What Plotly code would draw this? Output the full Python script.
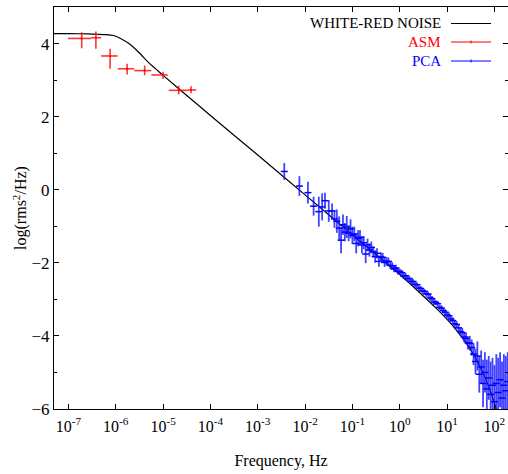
import plotly.graph_objects as go

# ---------------- data ----------------
# White-red noise model curve: log10(frequency), log10(power)
model_logf = [-7.32, -7.0, -6.6, -6.4, -6.2, -6.05, -5.9, -5.7, -5.5, -5.3, -5.15, -5.0,
              -4.5, -4.0, -3.0, -2.0, -1.0, 0.0, 0.4, 0.8, 1.0, 1.2, 1.4, 1.6, 1.8,
              1.9, 2.0, 2.1, 2.2, 2.3]
model_logp = [4.27, 4.27, 4.265, 4.255, 4.245, 4.22, 4.14, 3.98, 3.74, 3.47, 3.30, 3.13,
              2.58, 2.03, 0.95, -0.14, -1.23, -2.32, -2.79, -3.28, -3.55, -3.85, -4.19, -4.60, -5.13,
              -5.46, -5.84, -6.29, -6.83, -7.48]

# ASM: bin centre, bin edges (log10 Hz), log power, upper / lower errors
asm_logf = [-6.72, -6.42, -6.12, -5.76, -5.39, -5.00, -4.67, -4.41]
asm_logf_lo = [-7.01, -6.52, -6.31, -5.96, -5.61, -5.25, -4.88, -4.48]
asm_logf_hi = [-6.52, -6.31, -5.96, -5.61, -5.25, -4.90, -4.48, -4.30]
asm_logp = [4.14, 4.16, 3.66, 3.31, 3.26, 3.14, 2.72, 2.73]
asm_err_up = [0.17, 0.17, 0.20, 0.14, 0.14, 0.09, 0.13, 0.10]
asm_err_dn = [0.27, 0.30, 0.35, 0.16, 0.13, 0.10, 0.11, 0.09]

# PCA: log10 frequency, log power, error
pca_logf = [-2.44, -2.12, -1.94, -1.82, -1.71, -1.64, -1.58, -1.50, -1.43, -1.38, -1.33, -1.28, -1.24,
            -1.20, -1.16, -1.12, -1.08, -1.04, -1.00, -0.96, -0.92, -0.88, -0.84, -0.80, -0.76,
            -0.72, -0.68, -0.64, -0.60, -0.56, -0.52, -0.48, -0.44, -0.40, -0.36, -0.32, -0.28,
            -0.24, -0.20, -0.16, -0.12, -0.08, -0.04, 0.00, 0.04, 0.08, 0.12, 0.16, 0.20,
            0.24, 0.28, 0.32, 0.36, 0.40, 0.44, 0.48, 0.52, 0.56, 0.60, 0.64, 0.68,
            0.72, 0.76, 0.80, 0.84, 0.88, 0.92, 0.96, 1.00, 1.04, 1.08, 1.12, 1.16,
            1.20, 1.24, 1.28, 1.32, 1.36, 1.40, 1.44, 1.48,
            1.52, 1.56, 1.60, 1.64, 1.68, 1.72, 1.76, 1.80, 1.84, 1.88,
            1.92, 1.96, 2.00, 2.04, 2.08, 2.12, 2.16, 2.20, 2.24, 2.28]
pca_logp = [0.50, 0.10, -0.08, -0.45, -0.60, -0.47, -0.30, -0.58, -0.58, -0.80, -0.86, -1.05, -1.38,
            -0.96, -1.16, -1.02, -1.19, -1.07, -1.25, -1.21, -1.47, -1.33, -1.30, -1.51, -1.45,
            -1.76, -1.51, -1.65, -1.58, -1.70, -1.83, -1.74, -1.96, -1.84, -1.85, -1.99, -1.96,
            -1.96, -2.07, -2.08, -2.17, -2.14, -2.23, -2.24, -2.27, -2.36, -2.35, -2.43, -2.43,
            -2.51, -2.51, -2.59, -2.60, -2.69, -2.70, -2.77, -2.78, -2.85, -2.86, -2.96, -2.98,
            -3.07, -3.09, -3.12, -3.22, -3.24, -3.31, -3.35, -3.43, -3.45, -3.54, -3.58, -3.67,
            -3.69, -3.78, -3.88, -3.91, -4.03, -4.07, -4.19, -4.20,
            -4.32, -4.50, -4.70, -4.55, -5.05, -4.85, -5.30, -5.00, -5.45, -5.15,
            -5.60, -5.35, -5.80, -5.30, -5.55, -5.20, -5.70, -5.35, -5.50, -5.25]
pca_err = [0.23, 0.27, 0.30, 0.26, 0.41, 0.37, 0.22, 0.30, 0.20, 0.24, 0.32, 0.32, 0.36,
           0.28, 0.25, 0.30, 0.22, 0.26, 0.24, 0.20, 0.27, 0.22, 0.20, 0.23, 0.18,
           0.25, 0.17, 0.18, 0.16, 0.15, 0.17, 0.14, 0.15, 0.13, 0.12, 0.12, 0.11,
           0.11, 0.10, 0.10, 0.09, 0.09, 0.09, 0.08, 0.08, 0.08, 0.08, 0.08, 0.08,
           0.08, 0.07, 0.08, 0.07, 0.08, 0.07, 0.08, 0.07, 0.08, 0.07, 0.08, 0.07,
           0.08, 0.07, 0.08, 0.07, 0.08, 0.08, 0.08, 0.08, 0.09, 0.08, 0.09, 0.09,
           0.10, 0.10, 0.12, 0.13, 0.14, 0.16, 0.18, 0.20,
           0.22, 0.30, 0.35, 0.40, 0.50, 0.45, 0.65, 0.55, 0.80, 0.60,
           0.90, 0.75, 1.00, 0.80, 0.95, 0.75, 1.00, 0.85, 0.95, 0.80]

x_tick_exps = [-7, -6, -5, -4, -3, -2, -1, 0, 1, 2]
y_tick_vals = [-6, -4, -2, 0, 2, 4]
legend_names = ["WHITE-RED NOISE", "ASM", "PCA"]
legend_colors = ["black", "red", "blue"]

# ---------------- figure ----------------
FONT = "Liberation Serif, Times New Roman, serif"

model_f = [10 ** v for v in model_logf]
asm_f = [10 ** v for v in asm_logf]
asm_xp = [10 ** h - 10 ** c for h, c in zip(asm_logf_hi, asm_logf)]
asm_xm = [10 ** c - 10 ** l for l, c in zip(asm_logf_lo, asm_logf)]
pca_f = [10 ** v for v in pca_logf]

fig = go.Figure()
fig.add_trace(go.Scatter(x=model_f, y=model_logp, mode="lines", name=legend_names[0],
                         line=dict(color="black", width=1.2, shape="spline", smoothing=0.6)))
fig.add_trace(go.Scatter(x=asm_f, y=asm_logp, mode="markers", name=legend_names[1],
                         marker=dict(color="red", size=2),
                         error_x=dict(type="data", symmetric=False, array=asm_xp, arrayminus=asm_xm,
                                      color="rgba(255,0,0,0.8)", thickness=1.6, width=0),
                         error_y=dict(type="data", symmetric=False, array=asm_err_up, arrayminus=asm_err_dn,
                                      color="rgba(255,0,0,0.8)", thickness=1.6, width=0)))
fig.add_trace(go.Scatter(x=pca_f, y=pca_logp, mode="markers", name=legend_names[2],
                         marker=dict(symbol="line-ew", size=5, color="blue",
                                     line=dict(width=1.5, color="blue")),
                         error_y=dict(type="data", array=pca_err,
                                      color="rgba(20,20,255,0.8)", thickness=1.8, width=0)))

# legend drawn manually (text left of the sample line, as in the reference)
L, T, B, W = 54, 7, 409, 454
H = B - T
def px_x(x):
    return (x - L) / W
def px_y(y):
    return (B - y) / H

legend_rows = [23.5, 42, 61]
for name, col, yy in zip(legend_names, legend_colors, legend_rows):
    fig.add_annotation(x=px_x(443), y=px_y(yy), xref="paper", yref="paper", text=name,
                       showarrow=False, xanchor="right", yanchor="middle",
                       font=dict(family=FONT, size=15, color=col))
    fig.add_shape(type="line", xref="paper", yref="paper",
                  x0=px_x(451), x1=px_x(491), y0=px_y(yy), y1=px_y(yy),
                  line=dict(color=col, width=1.2))
    if name != "WHITE-RED NOISE":
        fig.add_shape(type="line", xref="paper", yref="paper",
                      x0=px_x(471), x1=px_x(471), y0=px_y(yy - 1.5), y1=px_y(yy + 1.5),
                      line=dict(color=col, width=1))

fig.update_layout(
    width=508, height=474, autosize=False,
    margin=dict(l=L, r=0, t=T, b=474 - B),
    paper_bgcolor="white", plot_bgcolor="white",
    showlegend=False,
    font=dict(family=FONT, size=15, color="black"),
)
fig.update_xaxes(
    type="log", range=[-7.305, 2.287],
    tickvals=[10 ** e for e in x_tick_exps],
    ticktext=["10<sup>%d</sup>" % e for e in x_tick_exps],
    automargin=False, ticklabelstandoff=3,
    showgrid=False, zeroline=False,
    ticks="inside", ticklen=5, tickwidth=1, tickcolor="black",
    showline=True, linecolor="black", linewidth=1, mirror="ticks",
    tickfont=dict(family=FONT, size=16),
    title=dict(text="Frequency, Hz", font=dict(family=FONT, size=16), standoff=20),
)
fig.update_yaxes(
    range=[-6, 5], tickvals=y_tick_vals, automargin=False,
    showgrid=False, zeroline=False,
    ticks="inside", ticklen=5, tickwidth=1, tickcolor="black",
    minor=dict(dtick=1, tick0=0, ticks="inside", ticklen=3, tickcolor="black", showgrid=False),
    showline=True, linecolor="black", linewidth=1, mirror="allticks",
    tickfont=dict(family=FONT, size=17),
    title=dict(text="log(rms<sup>2</sup>/Hz)", font=dict(family=FONT, size=16), standoff=0),
)

fig.write_html("out.html", config={"displayModeBar": False},
               post_script="document.body.style.margin='0px';document.body.style.overflow='hidden';")
